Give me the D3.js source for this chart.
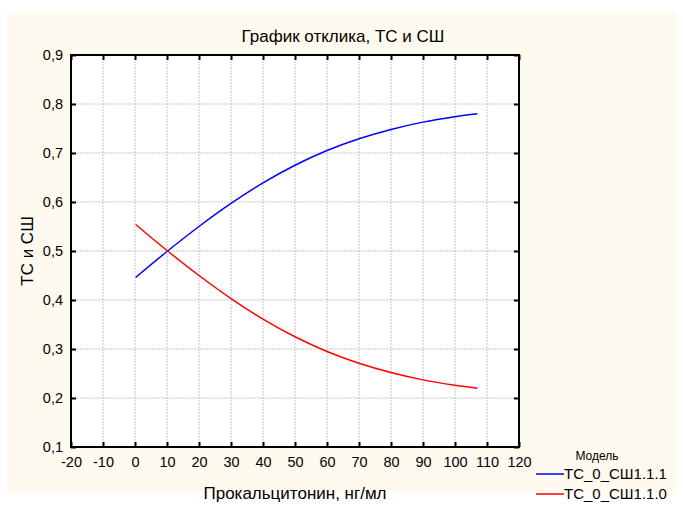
<!DOCTYPE html>
<html>
<head>
<meta charset="utf-8">
<script src="https://cdn.jsdelivr.net/npm/d3@7"></script>
<style>
  body { margin: 0; background: #fff; }
  text { font-family: "Liberation Sans", Arial, sans-serif; fill: #000; }
</style>
</head>
<body>
<svg id="chart" width="683" height="511"></svg>
<script>
// values
const xValues = [0.2, 10, 20, 30, 40, 50, 60, 70, 80, 90, 100, 107];
const model111 = [0.446, 0.499, 0.550, 0.597, 0.639, 0.675, 0.705, 0.729, 0.748, 0.763, 0.774, 0.780];
const model110 = [0.554, 0.501, 0.450, 0.403, 0.361, 0.325, 0.295, 0.271, 0.252, 0.237, 0.226, 0.220];
const xTicks = [-20, -10, 0, 10, 20, 30, 40, 50, 60, 70, 80, 90, 100, 110, 120];
const yTicks = [0.1, 0.2, 0.3, 0.4, 0.5, 0.6, 0.7, 0.8, 0.9];
const seriesNames = ['ТС_0_СШ1.1.1', 'ТС_0_СШ1.1.0'];
const seriesColors = ['#0000ff', '#ff0000'];

const svg = d3.select('#chart');
const margin = { top: 55, right: 164, bottom: 64, left: 71 };
const width = 683, height = 511;

svg.append('rect')
  .attr('x', 7).attr('y', 12)
  .attr('width', 669).attr('height', 481)
  .attr('fill', '#fffaef');

const x = d3.scaleLinear().domain([-20, 120]).range([margin.left, width - margin.right]);
const y = d3.scaleLinear().domain([0.1, 0.9]).range([height - margin.bottom, margin.top]);

svg.append('rect')
  .attr('x', x(-20)).attr('y', y(0.9))
  .attr('width', x(120) - x(-20)).attr('height', y(0.1) - y(0.9))
  .attr('fill', '#fff');

// grid
svg.append('g').selectAll('line')
  .data(xTicks.slice(1, -1))
  .enter().append('line')
  .attr('x1', d => x(d)).attr('x2', d => x(d))
  .attr('y1', y(0.9)).attr('y2', y(0.1))
  .attr('stroke', '#c4c4c4').attr('stroke-dasharray', '2,1');
svg.append('g').selectAll('line')
  .data(yTicks.slice(1, -1))
  .enter().append('line')
  .attr('y1', d => y(d)).attr('y2', d => y(d))
  .attr('x1', x(-20)).attr('x2', x(120))
  .attr('stroke', '#c4c4c4').attr('stroke-dasharray', '2,1');

// curves
const pts = vals => xValues.map((v, i) => [v, vals[i]]);
const line = d3.line()
  .curve(d3.curveCatmullRom)
  .x(d => x(d[0]))
  .y(d => y(d[1]));
[model111, model110].forEach((vals, i) => {
  svg.append('path')
    .datum(pts(vals))
    .attr('fill', 'none')
    .attr('stroke', seriesColors[i])
    .attr('stroke-width', 1.5)
    .attr('d', line);
});

// axes, ticks pointing inward
const fmt = d => d3.format('.1f')(d).replace('.', ',');
svg.append('g')
  .attr('transform', `translate(0,${y(0.1)})`)
  .call(d3.axisBottom(x).tickValues(xTicks).tickSizeInner(-5).tickSizeOuter(0).tickPadding(10).tickFormat(d => String(d)))
  .call(g => g.select('.domain').remove())
  .call(g => g.selectAll('.tick line').attr('stroke-width', 2))
  .call(g => g.selectAll('.tick text').attr('font-size', 14.5).attr('font-family', null));
svg.append('g')
  .attr('transform', `translate(0,${y(0.9)})`)
  .call(d3.axisTop(x).tickValues(xTicks).tickSizeInner(-5).tickSizeOuter(0).tickFormat(''))
  .call(g => g.select('.domain').remove())
  .call(g => g.selectAll('.tick line').attr('stroke-width', 2));
svg.append('g')
  .attr('transform', `translate(${x(-20)},0)`)
  .call(d3.axisLeft(y).tickValues(yTicks).tickSizeInner(-5).tickSizeOuter(0).tickPadding(8).tickFormat(fmt))
  .call(g => g.select('.domain').remove())
  .call(g => g.selectAll('.tick line').attr('stroke-width', 2))
  .call(g => g.selectAll('.tick text').attr('font-size', 14.5).attr('font-family', null));
svg.append('g')
  .attr('transform', `translate(${x(120)},0)`)
  .call(d3.axisRight(y).tickValues(yTicks).tickSizeInner(-5).tickSizeOuter(0).tickFormat(''))
  .call(g => g.select('.domain').remove())
  .call(g => g.selectAll('.tick line').attr('stroke-width', 2));

svg.append('rect')
  .attr('x', x(-20)).attr('y', y(0.9))
  .attr('width', x(120) - x(-20)).attr('height', y(0.1) - y(0.9))
  .attr('fill', 'none').attr('stroke', '#000').attr('stroke-width', 2);

// titles
svg.append('text')
  .attr('x', 343).attr('y', 42)
  .attr('text-anchor', 'middle').attr('font-size', 17)
  .text('График отклика, ТС и СШ');
svg.append('text')
  .attr('x', (x(-20) + x(120)) / 2).attr('y', 499)
  .attr('text-anchor', 'middle').attr('font-size', 17)
  .text('Прокальцитонин, нг/мл');
svg.append('text')
  .attr('transform', `translate(33,${(y(0.1) + y(0.9)) / 2}) rotate(-90)`)
  .attr('text-anchor', 'middle').attr('font-size', 17)
  .text('ТС и СШ');

// legend
const legend = svg.append('g');
legend.append('text')
  .attr('x', 597).attr('y', 460)
  .attr('text-anchor', 'middle').attr('font-size', 12)
  .text('Модель');
seriesNames.forEach((name, i) => {
  const ly = 474 + i * 20;
  legend.append('line')
    .attr('x1', 536).attr('x2', 564)
    .attr('y1', ly).attr('y2', ly)
    .attr('stroke', seriesColors[i]).attr('stroke-width', 1.5);
  legend.append('text')
    .attr('x', 564).attr('y', ly + 5)
    .attr('font-size', 15)
    .text(name);
});
</script>
</body>
</html>
